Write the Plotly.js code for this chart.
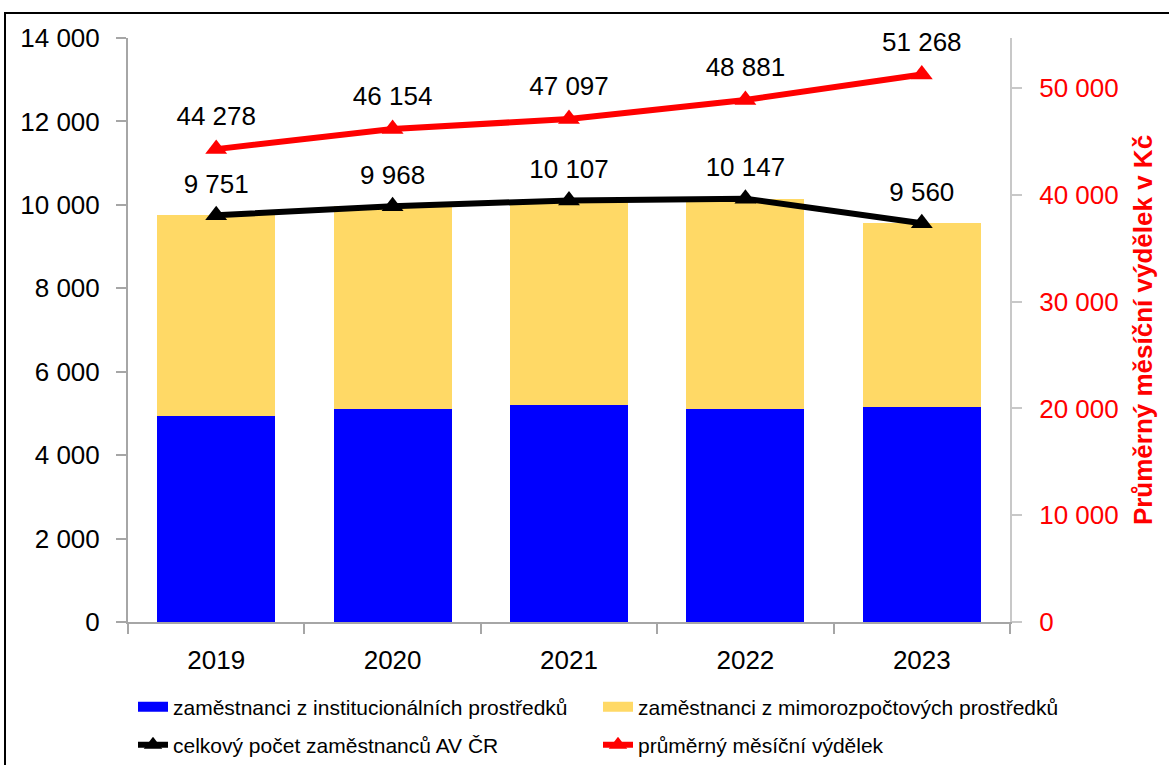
<!DOCTYPE html>
<html>
<head>
<meta charset="utf-8">
<script src="https://cdn.plot.ly/plotly-3.0.1.min.js"></script>
<style>
  html, body { margin: 0; padding: 0; background: #fff; overflow: hidden; }
  #frame { position: absolute; left: 4px; top: 12px; width: 1200px; height: 800px; border: 2px solid #000; box-sizing: border-box; }
  #chart { position: absolute; left: 0; top: 0; width: 1169px; height: 765px; }
</style>
</head>
<body>
<div id="frame"></div>
<div id="chart"></div>
<script>
const years = ['2019', '2020', '2021', '2022', '2023'];
const institutional = [4940, 5100, 5195, 5100, 5155];
const totalEmployees = [9751, 9968, 10107, 10147, 9560];
const avgWage = [44278, 46154, 47097, 48881, 51268];
const seriesNames = [
  'zaměstnanci z institucionálních prostředků',
  'zaměstnanci z mimorozpočtových prostředků',
  'celkový počet zaměstnanců AV ČR',
  'průměrný měsíční výdělek'
];
const extraBudget = totalEmployees.map((t, i) => t - institutional[i]);

const fmt = v => String(v).replace(/\B(?=(\d{3})+(?!\d))/g, ' ');
const FONT = 'Liberation Sans, Arial, sans-serif';
const BLUE = '#0000FF', YELLOW = '#FFD966', RED = '#FF0000', BLACK = '#000000';

const traces = [
  { type: 'bar', x: years, y: institutional, name: seriesNames[0], showlegend: false,
    marker: { color: BLUE }, yaxis: 'y', hoverinfo: 'skip' },
  { type: 'bar', x: years, y: extraBudget, name: seriesNames[1], showlegend: false,
    marker: { color: YELLOW }, yaxis: 'y', hoverinfo: 'skip' },
  // legend-only entries for the bars (wide rectangle swatches)
  { type: 'scatter', mode: 'lines', x: [null], y: [null], name: seriesNames[0],
    line: { color: BLUE, width: 13 }, legend: 'legend', hoverinfo: 'skip' },
  { type: 'scatter', mode: 'lines', x: [null], y: [null], name: seriesNames[1],
    line: { color: YELLOW, width: 13 }, legend: 'legend2', hoverinfo: 'skip' },
  { type: 'scatter', mode: 'lines+markers', x: years, y: totalEmployees, name: seriesNames[2],
    line: { color: BLACK, width: 6 }, marker: { symbol: 'triangle-up', size: 19, color: BLACK },
    yaxis: 'y', legend: 'legend3', cliponaxis: false, hoverinfo: 'skip' },
  { type: 'scatter', mode: 'lines+markers', x: years, y: avgWage, name: seriesNames[3],
    line: { color: RED, width: 6 }, marker: { symbol: 'triangle-up', size: 19, color: RED },
    yaxis: 'y2', legend: 'legend4', cliponaxis: false, hoverinfo: 'skip' },
  // data labels
  { type: 'scatter', mode: 'markers+text', x: years, y: totalEmployees, showlegend: false,
    marker: { size: 24, opacity: 0 }, text: totalEmployees.map(fmt), textposition: 'top center',
    textfont: { family: FONT, size: 26, color: '#000' }, yaxis: 'y', cliponaxis: false, hoverinfo: 'skip' },
  { type: 'scatter', mode: 'markers+text', x: years, y: avgWage, showlegend: false,
    marker: { size: 26, opacity: 0 }, text: avgWage.map(fmt), textposition: 'top center',
    textfont: { family: FONT, size: 26, color: '#000' }, yaxis: 'y2', cliponaxis: false, hoverinfo: 'skip' }
];

const PL = 128, PW = 882;
const legendBase = (xPix, yPix) => ({
  orientation: 'v', x: (xPix - PL) / PW, xref: 'paper', xanchor: 'left',
  y: 1 - yPix / 765, yref: 'container', yanchor: 'middle',
  font: { family: FONT, size: 21, color: '#000' }, bgcolor: 'rgba(0,0,0,0)', borderwidth: 0
});

const layout = {
  width: 1169, height: 765,
  margin: { l: PL, r: 1169 - PL - PW, t: 38, b: 143, autoexpand: false },
  paper_bgcolor: 'rgba(0,0,0,0)', plot_bgcolor: 'rgba(0,0,0,0)',
  font: { family: FONT, size: 26, color: '#000' },
  separators: ', ',
  barmode: 'stack', bargap: 0.33,
  showlegend: true,
  xaxis: {
    type: 'category', range: [-0.5, 4.5], showline: true, linecolor: '#a6a6a6', linewidth: 2,
    ticks: 'outside', tickson: 'boundaries', ticklen: 10, tickcolor: '#a6a6a6', tickwidth: 2,
    tickfont: { family: FONT, size: 26, color: '#000' }, showgrid: false, zeroline: false, ticklabelstandoff: 14,
    automargin: false, tickangle: 0
  },
  yaxis: {
    range: [0, 14000], dtick: 2000, tickformat: ',d', showline: true, linecolor: '#a6a6a6', linewidth: 2,
    ticks: 'outside', ticklen: 10, tickcolor: '#a6a6a6', tickwidth: 2, showgrid: false, zeroline: false,
    tickfont: { family: FONT, size: 26, color: '#000' }, ticklabelstandoff: 11, automargin: false
  },
  yaxis2: {
    overlaying: 'y', side: 'right', range: [0, 54682], dtick: 10000, tickformat: ',d',
    showline: true, linecolor: '#c8c8c8', linewidth: 2, ticks: 'outside', ticklen: 10, tickcolor: '#c8c8c8', tickwidth: 2,
    showgrid: false, zeroline: false, tickfont: { family: FONT, size: 26, color: RED }, ticklabelstandoff: 12,
    automargin: false,
    title: { text: 'Průměrný měsíční výdělek v Kč', font: { family: FONT, size: 26, color: RED, weight: 'bold' }, standoff: 16 }
  },
  legend: legendBase(133, 707),
  legend2: legendBase(598, 707),
  legend3: legendBase(133, 745),
  legend4: legendBase(598, 745)
};

Plotly.newPlot('chart', traces, layout, { staticPlot: true, displayModeBar: false });
</script>
</body>
</html>
